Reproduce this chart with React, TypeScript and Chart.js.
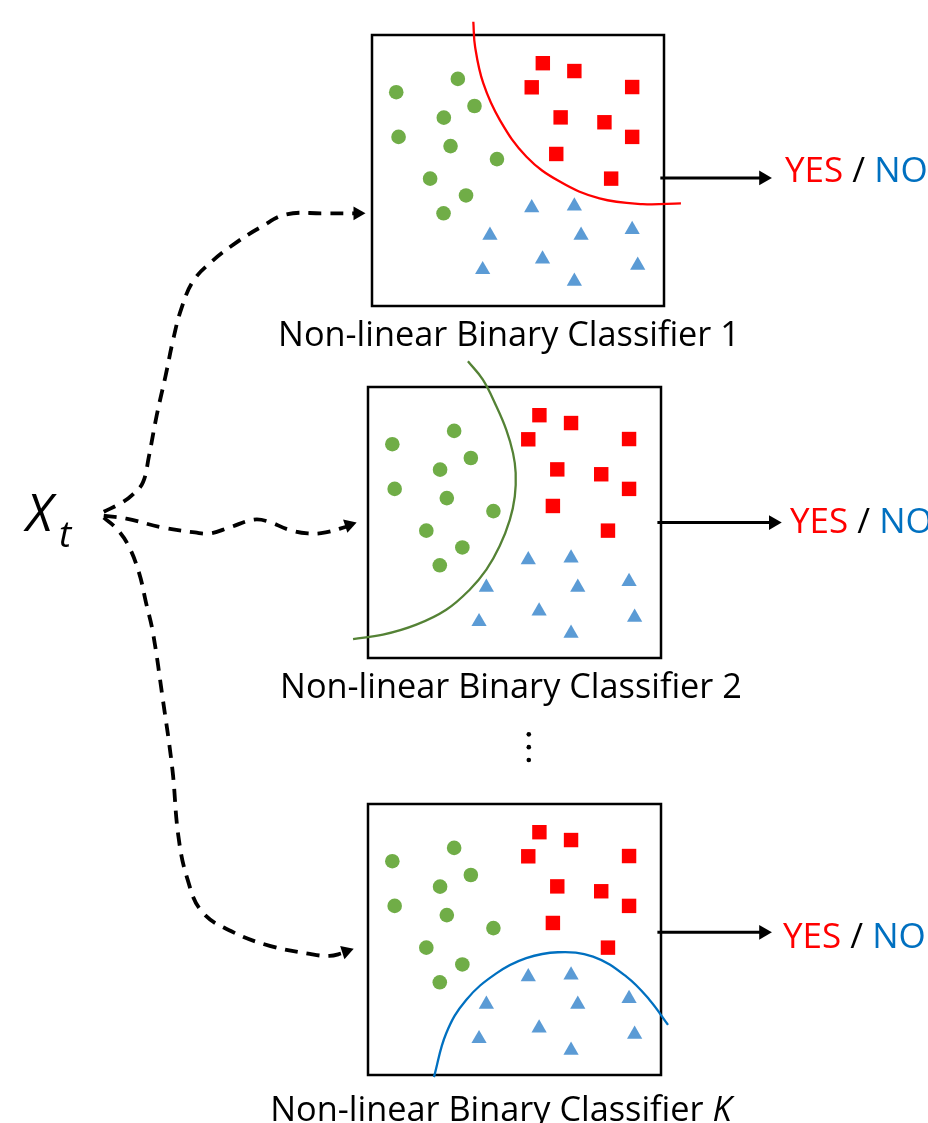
import { useEffect, useRef } from 'react';
import type { ReactNode } from 'react';
import { Chart, registerables } from 'chart.js';

Chart.register(...registerables);

// ---- feature space of every classifier panel: 0..100 on both axes, y up ----
const circleX = [8.3, 29.4, 35.1, 24.6, 9.1, 26.9, 42.8, 19.9, 32.2, 24.5];
const circleY = [78.9, 83.8, 73.8, 69.5, 62.4, 59.0, 54.2, 47.0, 40.8, 34.2];
const squareX = [58.5, 69.3, 54.7, 89.1, 64.6, 79.6, 89.1, 63.1, 81.9];
const squareY = [89.6, 86.7, 80.7, 80.8, 69.6, 67.8, 62.4, 56.1, 47.0];
const triangleX = [54.7, 69.3, 40.4, 71.6, 89.1, 58.4, 37.9, 91.0, 69.3];
const triangleY = [36.2, 36.9, 26.1, 26.1, 28.2, 17.3, 13.4, 15.0, 9.1];

// decision boundaries
const boundary1X = [34.7, 35.3, 38.1, 43.8, 52.9, 64.3, 77.9, 92.7, 105.8];
const boundary1Y = [104.9, 95.7, 82.2, 68.6, 55.1, 45.9, 39.7, 37.6, 37.9];
const boundary2X = [34.1, 39.2, 43.8, 47.2, 49.5, 50.4, 50.1, 48.4, 44.9, 40.4, 34.7, 26.7, 16.5, 5.1, -5.1];
const boundary2Y = [109.5, 102.7, 92.9, 84.2, 75.6, 68.3, 59.6, 51.0, 41.2, 32.6, 25.2, 17.8, 12.3, 8.6, 7.0];
const boundaryKX = [22.5, 26.7, 33.5, 43.8, 54.0, 64.8, 76.8, 88.2, 96.1, 102.4];
const boundaryKY = [-0.8, 15.4, 27.7, 37.5, 43.1, 45.3, 43.7, 36.3, 27.7, 18.5];

// ---- connectors of the diagram, in page pixels (y down) ----
const upperPathX = [97, 115, 127, 137, 143, 151, 160, 168, 176, 188, 207, 233, 257, 283, 320, 352];
const upperPathY = [511, 502, 493, 481, 455, 413, 373, 335, 305, 277, 257, 237, 222, 209, 208, 208];
const middlePathX = [97, 120, 157, 190, 205, 225, 250, 265, 285, 305, 323, 345];
const middlePathY = [515, 518, 527, 532, 533, 527, 519, 521, 529, 533, 532, 526];
const lowerPathX = [97, 110, 122, 133, 140, 147, 157, 167, 173, 182, 197, 227, 267, 307, 327, 341];
const lowerPathY = [517, 528, 545, 573, 603, 633, 700, 773, 840, 883, 917, 937, 952, 960, 962, 959];
const dashHeadX = [355.5, 346.9, 343.9];
const dashHeadY = [208, 524.3, 957.3];
const dashHeadAngle = [90, 72, 72];

const outputStartX = [664, 661, 661];
const outputEndX = [766, 776, 766];
const outputY = [172, 522, 938];
const outputHeadX = [769, 779, 769];

const ellipsisX = [530, 530, 530];
const ellipsisY = [737, 750, 763];

const GREEN = '#70AD47';
const RED = '#FF0000';
const BLUE = '#5B9BD5';
const PAD = 40;
const FONT = '"Open Sans", "Noto Sans", sans-serif';

const zip = (xs: number[], ys: number[]) => xs.map((x, i) => ({ x, y: ys[i] }));

const boxPlugin = {
  id: 'panelBox',
  beforeDatasetsDraw(chart: Chart) {
    const { ctx, chartArea } = chart;
    ctx.save();
    ctx.strokeStyle = '#000';
    ctx.lineWidth = 2.5;
    ctx.strokeRect(chartArea.left, chartArea.top, chartArea.right - chartArea.left, chartArea.bottom - chartArea.top);
    ctx.restore();
  },
};

type PanelProps = {
  left: number;
  top: number;
  width: number;
  height: number;
  curveX: number[];
  curveY: number[];
  curveColor: string;
};

function ClassifierPanel({ left, top, width, height, curveX, curveY, curveColor }: PanelProps) {
  const canvasRef = useRef<HTMLCanvasElement>(null);

  useEffect(() => {
    const canvas = canvasRef.current;
    if (!canvas) return;
    const chart = new Chart(canvas, {
      type: 'scatter',
      data: {
        datasets: [
          {
            data: zip(curveX, curveY),
            showLine: true,
            borderColor: curveColor,
            borderWidth: 2.3,
            pointRadius: 0,
            tension: 0.4,
            fill: false,
            clip: false,
          },
          {
            data: zip(circleX, circleY),
            pointStyle: 'circle',
            pointRadius: 7.3,
            pointBackgroundColor: GREEN,
            pointBorderWidth: 0,
          },
          {
            data: zip(squareX, squareY),
            pointStyle: 'rect',
            pointRadius: 10.2,
            pointBackgroundColor: RED,
            pointBorderWidth: 0,
          },
          {
            data: zip(triangleX, triangleY),
            pointStyle: 'triangle',
            pointRadius: 8.8,
            pointBackgroundColor: BLUE,
            pointBorderWidth: 0,
          },
        ],
      },
      options: {
        responsive: true,
        maintainAspectRatio: false,
        animation: false,
        events: [],
        layout: { padding: PAD },
        plugins: { legend: { display: false }, tooltip: { enabled: false } },
        scales: {
          x: { type: 'linear', min: 0, max: 100, display: false },
          y: { type: 'linear', min: 0, max: 100, display: false },
        },
      },
      plugins: [boxPlugin],
    });
    return () => chart.destroy();
  }, [curveX, curveY, curveColor]);

  return (
    <div
      style={{
        position: 'absolute',
        left: left - PAD,
        top: top - PAD,
        width: width + 2 * PAD,
        height: height + 2 * PAD,
      }}
    >
      <canvas ref={canvasRef} />
    </div>
  );
}

function Connectors() {
  const canvasRef = useRef<HTMLCanvasElement>(null);

  useEffect(() => {
    const canvas = canvasRef.current;
    if (!canvas) return;
    const dashed = (xs: number[], ys: number[]) => ({
      data: zip(xs, ys),
      showLine: true,
      borderColor: '#000',
      borderWidth: 3.8,
      borderDash: [13, 9],
      pointRadius: 0,
      tension: 0.4,
      fill: false,
    });
    const outputs = outputY.map((y, i) => ({
      data: [
        { x: outputStartX[i], y },
        { x: outputEndX[i], y },
      ],
      showLine: true,
      borderColor: '#000',
      borderWidth: 3,
      pointRadius: 0,
      fill: false,
    }));
    const chart = new Chart(canvas, {
      type: 'scatter',
      data: {
        datasets: [
          dashed(upperPathX, upperPathY),
          dashed(middlePathX, middlePathY),
          dashed(lowerPathX, lowerPathY),
          ...outputs,
          {
            data: zip(dashHeadX, dashHeadY),
            pointStyle: 'triangle',
            pointRadius: 8,
            pointRotation: dashHeadAngle,
            pointBackgroundColor: '#000',
            pointBorderWidth: 0,
          },
          {
            data: zip(outputHeadX, outputY),
            pointStyle: 'triangle',
            pointRadius: 8.5,
            pointRotation: 90,
            pointBackgroundColor: '#000',
            pointBorderWidth: 0,
          },
          {
            data: zip(ellipsisX, ellipsisY),
            pointStyle: 'circle',
            pointRadius: 2.3,
            pointBackgroundColor: '#000',
            pointBorderWidth: 0,
          },
        ],
      },
      options: {
        responsive: true,
        maintainAspectRatio: false,
        animation: false,
        events: [],
        layout: { padding: 0 },
        plugins: { legend: { display: false }, tooltip: { enabled: false } },
        scales: {
          x: { type: 'linear', min: 0, max: 928, display: false },
          y: { type: 'linear', min: 0, max: 1123, reverse: true, display: false },
        },
      },
    });
    return () => chart.destroy();
  }, []);

  return (
    <div style={{ position: 'absolute', left: 0, top: 0, width: 928, height: 1123 }}>
      <canvas ref={canvasRef} />
    </div>
  );
}

// text whose baseline sits at `baseline` (line-height 1)
function Label({
  x,
  baseline,
  size,
  center,
  italic,
  children,
}: {
  x: number;
  baseline: number;
  size: number;
  center?: boolean;
  italic?: boolean;
  children: ReactNode;
}) {
  return (
    <div
      style={{
        position: 'absolute',
        left: center ? x - 300 : x,
        width: center ? 600 : undefined,
        top: baseline - size * 0.888,
        fontFamily: FONT,
        fontSize: size,
        fontStyle: italic ? 'italic' : 'normal',
        lineHeight: 1,
        whiteSpace: 'nowrap',
        textAlign: center ? 'center' : 'left',
        color: '#000',
      }}
    >
      {children}
    </div>
  );
}

function YesNo({ x, baseline }: { x: number; baseline: number }) {
  return (
    <Label x={x} baseline={baseline} size={35}>
      <span style={{ color: '#FF0000' }}>YES</span> / <span style={{ color: '#0070C0' }}>NO</span>
    </Label>
  );
}

export default function App() {
  return (
    <div
      style={{
        position: 'absolute',
        left: 0,
        top: 0,
        width: 928,
        height: 1123,
        overflow: 'hidden',
        background: '#fff',
      }}
    >
      <Connectors />
      <ClassifierPanel left={372} top={35} width={292} height={271} curveX={boundary1X} curveY={boundary1Y} curveColor="#FF0000" />
      <ClassifierPanel left={368} top={387} width={293} height={271} curveX={boundary2X} curveY={boundary2Y} curveColor="#548235" />
      <ClassifierPanel left={368} top={804} width={293} height={271} curveX={boundaryKX} curveY={boundaryKY} curveColor="#0070C0" />

      <Label x={509} baseline={346.7} size={34.3} center>
        Non-linear Binary Classifier 1
      </Label>
      <Label x={511} baseline={698} size={34.3} center>
        Non-linear Binary Classifier 2
      </Label>
      <Label x={501} baseline={1121} size={34.3} center>
        Non-linear Binary Classifier <i>K</i>
      </Label>

      <YesNo x={785} baseline={181.7} />
      <YesNo x={790} baseline={533.3} />
      <YesNo x={783} baseline={948} />

      <Label x={26} baseline={531.7} size={51} italic>
        X
      </Label>
      <Label x={59} baseline={546.7} size={37} italic>
        t
      </Label>
    </div>
  );
}
